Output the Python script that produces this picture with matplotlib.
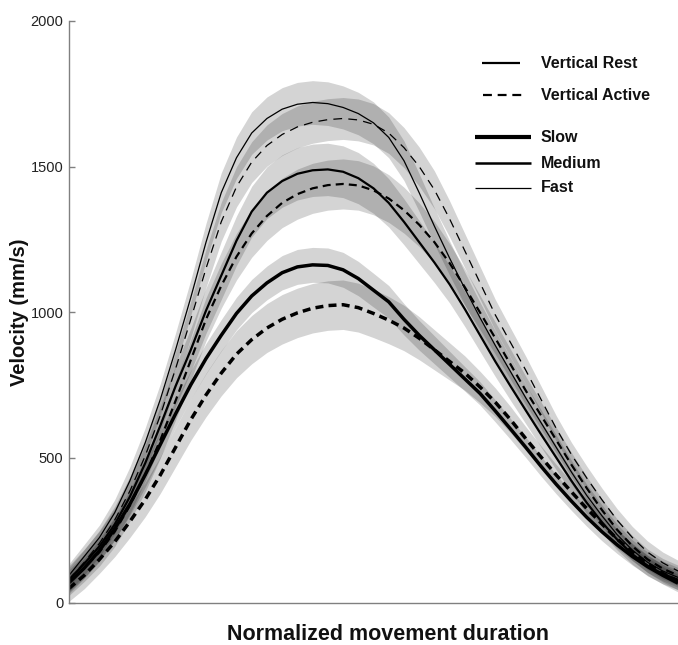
import matplotlib
matplotlib.use("Agg")
import matplotlib.pyplot as plt
from matplotlib.lines import Line2D

plt.rcParams['font.family'] = ['Liberation Sans', 'DejaVu Sans']

# Normalized movement duration sample points
x = [0.000, 0.025, 0.050, 0.075, 0.100, 0.125, 0.150, 0.175, 0.200, 0.225,
     0.250, 0.275, 0.300, 0.325, 0.350, 0.375, 0.400, 0.425, 0.450, 0.475,
     0.500, 0.525, 0.550, 0.575, 0.600, 0.625, 0.650, 0.675, 0.700, 0.725,
     0.750, 0.775, 0.800, 0.825, 0.850, 0.875, 0.900, 0.925, 0.950, 0.975,
     1.000]

# Mean velocity (mm/s)
fast_rest = [95, 160, 225, 310, 420, 550, 700, 870, 1050, 1240,
             1410, 1530, 1615, 1665, 1697, 1714, 1720, 1716, 1703, 1682,
             1650, 1600, 1520, 1410, 1295, 1185, 1080, 980, 885, 795,
             705, 620, 535, 450, 370, 300, 235, 182, 140, 110,
             88]
fast_active = [80, 140, 205, 285, 385, 505, 645, 805, 975, 1150,
               1310, 1430, 1515, 1572, 1610, 1636, 1652, 1661, 1665, 1660,
               1645, 1615, 1565, 1500, 1420, 1320, 1210, 1100, 990, 895,
               800, 700, 600, 510, 430, 355, 285, 225, 175, 138,
               110]
medium_rest = [80, 135, 195, 270, 365, 480, 610, 745, 870, 1005,
               1125, 1245, 1345, 1410, 1450, 1475, 1487, 1490, 1482, 1460,
               1425, 1375, 1310, 1240, 1170, 1095, 1010, 920, 830, 745,
               662, 580, 500, 420, 345, 278, 218, 168, 128, 100,
               80]
medium_active = [70, 120, 175, 245, 335, 440, 560, 695, 835, 975,
                 1090, 1190, 1270, 1330, 1375, 1405, 1425, 1436, 1440, 1435,
                 1418, 1390, 1350, 1300, 1240, 1168, 1085, 998, 910, 820,
                 730, 645, 560, 475, 395, 320, 252, 196, 150, 118,
                 95]
slow_rest = [70, 120, 180, 255, 340, 440, 545, 650, 750, 840,
             920, 995, 1055, 1100, 1135, 1155, 1162, 1160, 1145, 1115,
             1075, 1035, 975, 920, 870, 820, 770, 720, 660, 598,
             535, 470, 408, 350, 295, 245, 200, 160, 125, 95,
             68]
slow_active = [50, 95, 150, 210, 280, 355, 440, 535, 630, 715,
               790, 855, 905, 945, 975, 997, 1013, 1022, 1025, 1015,
               995, 972, 945, 910, 870, 830, 790, 742, 690, 630,
               565, 502, 440, 382, 325, 272, 220, 175, 135, 102,
               75]

# Variability (half-width of shaded band, mm/s)
fast_rest_sd = [40, 41, 43, 45, 48, 51, 54, 58, 61, 65,
                68, 71, 73, 74, 74, 75, 75, 75, 74, 73,
                72, 70, 68, 65, 62, 59, 56, 53, 50, 48,
                46, 44, 42, 40, 38, 37, 36, 35, 35, 34,
                34]
fast_active_sd = [42, 43, 45, 47, 50, 53, 56, 59, 62, 65,
                  67, 69, 70, 71, 72, 72, 72, 72, 72, 72,
                  71, 70, 69, 67, 65, 62, 59, 56, 53, 50,
                  48, 46, 44, 42, 41, 40, 39, 38, 38, 37,
                  37]
medium_rest_sd = [48, 50, 52, 55, 58, 62, 66, 70, 74, 78,
                  82, 85, 87, 89, 90, 90, 90, 90, 89, 88,
                  86, 83, 79, 74, 69, 64, 60, 56, 52, 49,
                  46, 44, 42, 40, 38, 37, 36, 35, 35, 34,
                  34]
medium_active_sd = [44, 46, 48, 51, 54, 58, 62, 66, 70, 74,
                    77, 80, 82, 84, 85, 86, 86, 86, 86, 85,
                    84, 82, 79, 75, 71, 67, 63, 59, 55, 52,
                    49, 46, 44, 42, 40, 38, 37, 36, 35, 35,
                    35]
slow_rest_sd = [32, 33, 35, 37, 39, 42, 44, 47, 49, 52,
                54, 56, 57, 58, 59, 60, 60, 60, 60, 59,
                58, 56, 54, 51, 48, 45, 42, 40, 38, 36,
                35, 34, 33, 32, 31, 31, 30, 30, 30, 30,
                30]
slow_active_sd = [44, 46, 48, 51, 55, 59, 63, 67, 71, 75,
                  78, 81, 83, 84, 85, 85, 85, 85, 85, 84,
                  83, 81, 78, 74, 69, 64, 59, 54, 49, 45,
                  41, 38, 36, 34, 33, 32, 31, 30, 30, 30,
                  30]

yticks = [0, 500, 1000, 1500, 2000]
ylabel = "Velocity (mm/s)"
xlabel = "Normalized movement duration"
legend_cond = ["Vertical Rest", "Vertical Active"]
legend_speed = ["Slow", "Medium", "Fast"]

W, H = 678, 645
fig = plt.figure(figsize=(W / 100, H / 100), dpi=100)
ax = fig.add_axes([69 / W, 1 - 603 / H, (678 - 69) / W, (603 - 21) / H])

series = [
    (fast_rest, fast_rest_sd, 0.9, None),
    (fast_active, fast_active_sd, 0.9, (0, (7.0, 5.0))),
    (medium_rest, medium_rest_sd, 1.6, None),
    (medium_active, medium_active_sd, 1.6, (0, (3.6, 2.3))),
    (slow_rest, slow_rest_sd, 2.5, None),
    (slow_active, slow_active_sd, 2.5, (0, (2.3, 1.5))),
]

for vals, sd, lw, ls in series:
    lo = [v - s for v, s in zip(vals, sd)]
    hi = [v + s for v, s in zip(vals, sd)]
    ax.fill_between(x, lo, hi, color='black', alpha=0.17, linewidth=0)

for vals, sd, lw, ls in series:
    ax.plot(x, vals, color='black', lw=lw,
            linestyle=ls if ls is not None else '-',
            solid_capstyle='butt', dash_capstyle='butt',
            solid_joinstyle='round')

ax.set_xlim(0, 1)
ax.set_ylim(0, 2000)
ax.set_xticks([])
ax.set_yticks(yticks)
ax.set_yticklabels([str(t) for t in yticks], fontsize=10.5, color='#222222')
ax.tick_params(axis='y', direction='in', length=4, width=1, color='#808080', pad=4)
for s in ['top', 'right']:
    ax.spines[s].set_visible(False)
for s in ['left', 'bottom']:
    ax.spines[s].set_color('#808080')
    ax.spines[s].set_linewidth(1.0)

fig.text(20 / W, 1 - 312 / H, ylabel, rotation=90, ha='center', va='center',
         fontsize=14.5, fontweight='bold', color='#111111')
fig.text(388 / W, 1 - 634 / H, xlabel, ha='center', va='center',
         fontsize=15.5, fontweight='bold', color='#111111')

# Legend (drawn manually in figure coordinates)
def fx(px):
    return px / W

def fy(py):
    return 1 - py / H

leg_items = [
    (legend_cond[0], 63, 482, 520, 1.6, '-'),
    (legend_cond[1], 95, 483, 522, 1.6, (0, (4.0, 2.6))),
    (legend_speed[0], 137, 475, 531, 3.0, '-'),
    (legend_speed[1], 163, 475, 531, 1.8, '-'),
    (legend_speed[2], 188, 475, 531, 0.9, '-'),
]
for label, py, x0, x1, lw, ls in leg_items:
    fig.add_artist(Line2D([fx(x0), fx(x1)], [fy(py), fy(py)], color='black',
                          lw=lw, linestyle=ls, transform=fig.transFigure,
                          solid_capstyle='butt', dash_capstyle='butt'))
    fig.text(fx(541), fy(py), label, ha='left', va='center', fontsize=11.5,
             fontweight='bold', color='#111111')

fig.savefig("out.png", dpi=100)
